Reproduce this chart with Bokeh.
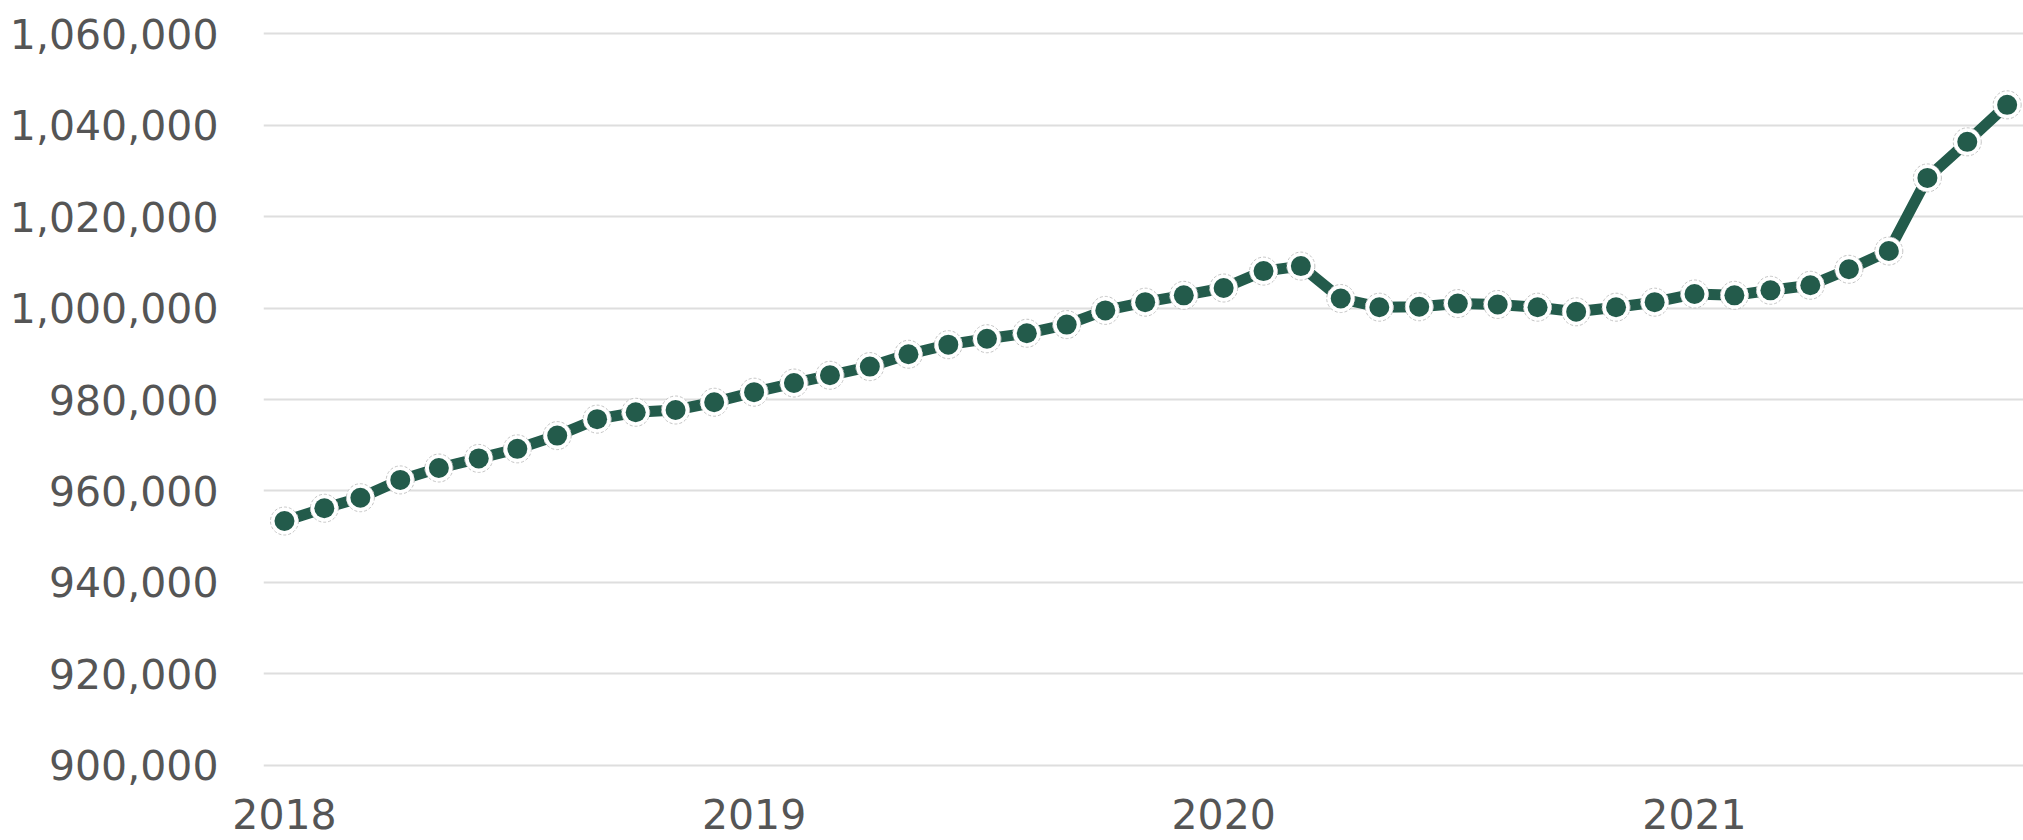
from datetime import datetime, timedelta
import pandas as pd
from bokeh.plotting import figure
from bokeh.models import (ColumnDataSource, FixedTicker, DatetimeTickFormatter,
                          NumeralTickFormatter, Range1d)
from bokeh.embed import file_html
from bokeh.resources import INLINE

# ---- data (monthly, Jan 2018 - Sep 2021) ----
first_month = "2018-01-01"
values = [953400, 956200, 958500, 962400, 965000, 967100, 969200, 972100, 975700,
          977200, 977700, 979400, 981600, 983600, 985300, 987200, 989900, 992000,
          993300, 994500, 996400, 999500, 1001300, 1002800, 1004400, 1008100, 1009200,
          1002100, 1000200, 1000300, 1001000, 1000800, 1000200, 999200, 1000200,
          1001300, 1003100, 1002800, 1003900, 1005000, 1008500, 1012500, 1028500,
          1036400, 1044500]
year_ticks = [2018, 2019, 2020, 2021]
y_ticks = [900000, 920000, 940000, 960000, 980000, 1000000, 1020000, 1040000, 1060000]

dates = pd.date_range(first_month, periods=len(values), freq="MS")
src = ColumnDataSource(dict(date=dates, value=values))

GREEN = "#235b4b"
TEXT = "#555555"
FONT = "DejaVu Sans"

t0 = datetime(2018, 1, 1)
x_range = Range1d(t0 - timedelta(days=16.3), t0 + timedelta(days=1351.7))
y_range = Range1d(900000 - 766, 1060000 + 766)

p = figure(width=2023, height=840, x_axis_type="datetime",
           x_range=x_range, y_range=y_range,
           output_backend="svg", toolbar_location=None,
           min_border_left=263, min_border_right=0,
           min_border_top=30, min_border_bottom=72)
p.outline_line_color = None
p.background_fill_color = "white"
p.border_fill_color = "white"

# line + markers
p.line("date", "value", source=src, line_color=GREEN, line_width=11)
p.scatter("date", "value", source=src, size=28, marker="circle",
          fill_color="white", line_color="#c4c4c4", line_width=1, line_dash="3 2")
p.scatter("date", "value", source=src, size=20, marker="circle",
          fill_color=GREEN, line_color=None)

# axes
tick_ms = [datetime(y, 1, 1).timestamp() * 1000 for y in year_ticks]
p.xaxis.ticker = FixedTicker(ticks=tick_ms)
p.xaxis.formatter = DatetimeTickFormatter(years="%Y", months="%Y", days="%Y",
                                          hours="%Y", minutes="%Y", seconds="%Y")
p.yaxis.ticker = FixedTicker(ticks=y_ticks)
p.yaxis.formatter = NumeralTickFormatter(format="0,0")

for ax in (p.xaxis[0], p.yaxis[0]):
    ax.axis_line_color = None
    ax.major_tick_line_color = None
    ax.minor_tick_line_color = None
    ax.major_label_text_font = FONT
    ax.major_label_text_font_size = "41px"
    ax.major_label_text_color = TEXT
p.xaxis.major_label_standoff = 24
p.yaxis.major_label_standoff = 39

p.xgrid.grid_line_color = None
p.ygrid.grid_line_color = "#dedede"
p.ygrid.grid_line_width = 2

open("out.html", "w").write(file_html(p, INLINE))
